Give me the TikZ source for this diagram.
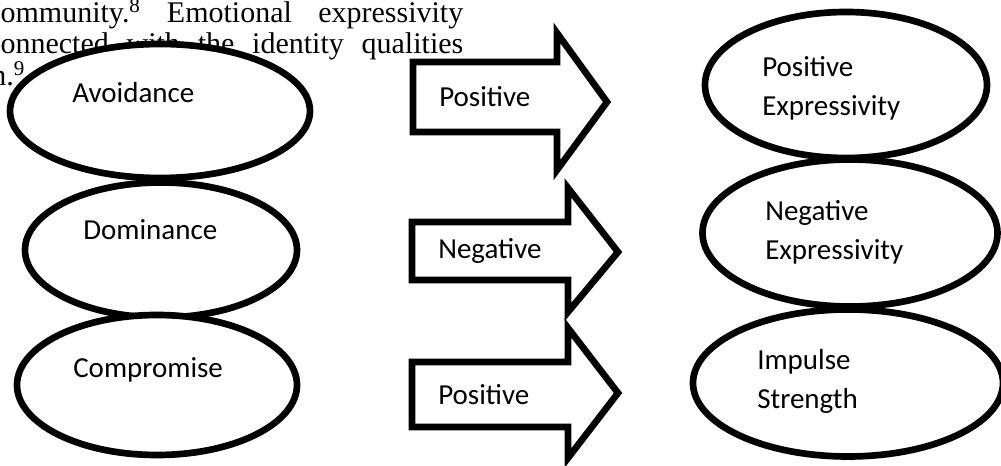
\documentclass[tikz,border=0pt]{standalone}
\usepackage{fontspec}
\setmainfont{Carlito}
\newfontfamily\pagefont{Liberation Serif}
\usetikzlibrary{shapes.geometric}

\tikzset{
  oval/.style={draw, ellipse, line width=5pt, fill=white, inner sep=0pt},
  ovaltext/.style={anchor=west, inner sep=0pt, align=left, font=\fontsize{21.75}{29.25}\selectfont},
  blockarrow/.style={draw, line width=5pt, fill=white, line join=miter},
  pagetext/.style={anchor=base west, inner sep=0pt, font=\pagefont\fontsize{22.5}{26}\selectfont}
}

\begin{document}
\begin{tikzpicture}[x=0.75pt,y=-0.75pt]
	\useasboundingbox (0,0) rectangle (1001,466);
	\clip (0,0) rectangle (1001,466);
	% page text behind the picture
	\node[pagetext] (line1) at (-13,23) {\makebox[357pt][s]{community.\textsuperscript{8} Emotional expressivity}};
	\node[pagetext] (line2) at (-13,54) {\makebox[357pt][s]{connected with the identity qualities}};
	\node[pagetext] (line3) at (-9,86) {n.\textsuperscript{9}};
	% left column
	\node[oval, minimum width=225pt, minimum height=100.5pt] (avoid) at (160,111) {};
	\node[oval, minimum width=204pt, minimum height=101.25pt] (domin) at (161,250) {};
	\node[oval, minimum width=210pt, minimum height=105pt] (compro) at (157,385) {};
	\node[ovaltext] (avoidtext) at (72,93) {Avoidance};
	\node[ovaltext] (domintext) at (83,230) {Dominance};
	\node[ovaltext] (comprotext) at (73,370) {Compromise};
	% right column
	\node[oval, minimum width=211.5pt, minimum height=109.5pt] (posexp) at (846,85) {};
	\node[oval, minimum width=221.25pt, minimum height=110.25pt] (negexp) at (850,233) {};
	\node[oval, minimum width=232.5pt, minimum height=110.25pt] (impulse) at (848,383) {};
	\node[ovaltext] (posexptext) at (762,88) {Positive\\Expressivity};
	\node[ovaltext] (negexptext) at (765,232) {Negative\\Expressivity};
	\node[ovaltext] (impulsetext) at (757,381) {Impulse\\Strength};
	% block arrows
	\foreach \ax/\bx/\tx/\su/\sd/\hu/\hd/\ty/\lab [count=\i] in {413/557/607/62/132/33/170/102/Positive,412/568/618/222/280/188/312/252/Negative,412/568/618/362/427/328/458/393/Positive}{
		\draw[blockarrow] (\ax,\su) -- (\bx,\su) -- (\bx,\hu) -- (\tx,\ty) -- (\bx,\hd) -- (\bx,\sd) -- (\ax,\sd) -- cycle;
		\node[ovaltext] (label\i) at (\ax+26,{(\su+\sd)/2}) {\lab};
	}
\end{tikzpicture}
\end{document}
